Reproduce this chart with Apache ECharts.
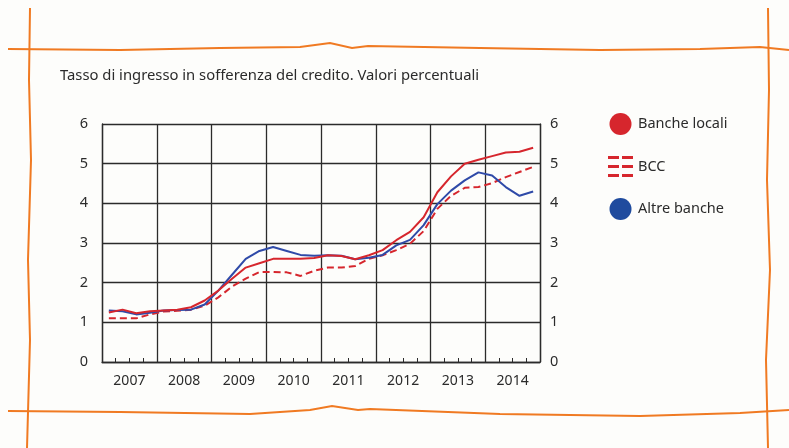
<!DOCTYPE html>
<html>
<head>
<meta charset="utf-8">
<script src="https://cdn.jsdelivr.net/npm/echarts@6/dist/echarts.min.js"></script>
<style>
  html, body { margin: 0; padding: 0; background: #fdfdfb; }
  #chart { width: 789px; height: 448px; }
</style>
</head>
<body>
<div id="chart"></div>
<script>
// years shown on the axis, quarterly data underneath
const years = ["2007", "2008", "2009", "2010", "2011", "2012", "2013", "2014"];
const quarters = years.flatMap(y => ["T1", "T2", "T3", "T4"].map(q => q + " " + y));
const yTicks = [0, 1, 2, 3, 4, 5, 6];

const bancheLocali = [
  1.25, 1.32, 1.23, 1.28, 1.30, 1.32, 1.38, 1.55,
  1.80, 2.10, 2.38, 2.49, 2.60, 2.60, 2.60, 2.62,
  2.69, 2.67, 2.59, 2.69, 2.82, 3.07, 3.28, 3.65,
  4.28, 4.68, 5.00, 5.10, 5.19, 5.28, 5.30, 5.40
];
const bcc = [
  1.10, 1.10, 1.10, 1.20, 1.27, 1.29, 1.32, 1.42,
  1.63, 1.90, 2.10, 2.27, 2.27, 2.26, 2.17, 2.30,
  2.38, 2.38, 2.42, 2.60, 2.69, 2.82, 2.98, 3.30,
  3.86, 4.19, 4.39, 4.41, 4.51, 4.66, 4.79, 4.92
];
const altreBanche = [
  1.30, 1.28, 1.20, 1.24, 1.30, 1.31, 1.32, 1.45,
  1.80, 2.20, 2.60, 2.80, 2.90, 2.80, 2.70, 2.68,
  2.69, 2.68, 2.59, 2.63, 2.70, 2.94, 3.08, 3.45,
  3.98, 4.32, 4.58, 4.78, 4.70, 4.41, 4.19, 4.30
];

const RED = "#d6262d";
const BLUE = "#2f4aa8";
const INK = "#2b2b2b";
const ORANGE = "#f07a22";
const FONT = "Noto Sans";

const chart = echarts.init(document.getElementById("chart"), null, { renderer: "canvas" });

// the hand-drawn looking orange frame around the figure
const frame = [
  [[8, 49], [120, 50], [220, 48], [300, 47], [330, 43], [352, 48], [368, 46], [480, 48], [600, 50], [700, 49], [760, 47], [789, 50]],
  [[8, 411], [120, 412], [250, 414], [310, 410], [332, 406], [358, 410], [370, 409], [500, 414], [640, 416], [740, 413], [789, 410]],
  [[30, 8], [29, 80], [31, 160], [28, 260], [30, 340], [27, 448]],
  [[768, 8], [769, 90], [767, 180], [770, 270], [766, 360], [768, 448]]
];

chart.setOption({
  backgroundColor: "#fdfdfb",
  animation: false,
  textStyle: { fontFamily: FONT, color: INK },
  title: {
    text: "Tasso di ingresso in sofferenza del credito. Valori percentuali",
    left: 55,
    top: 63,
    textStyle: { fontFamily: FONT, fontSize: 14.8, fontWeight: "normal", color: INK }
  },
  legend: {
    orient: "vertical",
    left: 603,
    top: 108,
    itemWidth: 25,
    itemHeight: 22,
    itemGap: 21,
    textStyle: { fontFamily: FONT, fontSize: 14.5, color: INK },
    data: [
      { name: "Banche locali", icon: "circle", itemStyle: { color: RED } },
      { name: "BCC", icon: "path://M0,0.5h11v3h-11z M14,0.5h11v3h-11z M0,9.5h11v3h-11z M14,9.5h11v3h-11z M0,18.5h11v3h-11z M14,18.5h11v3h-11z", itemStyle: { color: RED } },
      { name: "Altre banche", icon: "circle", itemStyle: { color: "#1f4b9e" } }
    ]
  },
  graphic: frame.map(points => ({
    type: "polyline",
    shape: { points },
    style: { stroke: ORANGE, lineWidth: 2, fill: null }
  })),
  grid: { left: 102, right: 249, top: 124, bottom: 86 },
  xAxis: [
    {
      type: "category",
      data: years,
      boundaryGap: true,
      axisLine: { show: true, lineStyle: { color: INK, width: 1.3 } },
      axisTick: { show: false },
      axisLabel: { fontSize: 14, color: INK, margin: 12 },
      splitLine: { show: true, interval: 0, lineStyle: { color: INK, width: 1.3 } }
    },
    {
      type: "category",
      data: quarters,
      boundaryGap: true,
      position: "bottom",
      axisLine: { show: false },
      axisLabel: { show: false },
      axisTick: { show: true, inside: true, interval: 0, length: 4, lineStyle: { color: INK, width: 1 } },
      splitLine: { show: false }
    }
  ],
  yAxis: [
    {
      type: "value",
      min: yTicks[0],
      max: yTicks[yTicks.length - 1],
      interval: 1,
      position: "left",
      axisLine: { show: true, lineStyle: { color: INK, width: 1.3 } },
      axisTick: { show: false },
      axisLabel: { fontSize: 14.5, color: INK, margin: 14 },
      splitLine: { show: true, lineStyle: { color: INK, width: 1.3 } }
    },
    {
      type: "value",
      min: yTicks[0],
      max: yTicks[yTicks.length - 1],
      interval: 1,
      position: "right",
      axisLine: { show: true, lineStyle: { color: INK, width: 1.3 } },
      axisTick: { show: false },
      axisLabel: { fontSize: 14.5, color: INK, margin: 10 },
      splitLine: { show: false }
    }
  ],
  series: [
    {
      name: "BCC",
      type: "line",
      xAxisIndex: 1,
      data: bcc,
      showSymbol: false,
      symbol: "none",
      itemStyle: { color: RED },
      lineStyle: { color: RED, width: 2, type: [7, 4] }
    },
    {
      name: "Altre banche",
      type: "line",
      xAxisIndex: 1,
      data: altreBanche,
      showSymbol: false,
      symbol: "none",
      itemStyle: { color: BLUE },
      lineStyle: { color: BLUE, width: 2 }
    },
    {
      name: "Banche locali",
      type: "line",
      xAxisIndex: 1,
      data: bancheLocali,
      showSymbol: false,
      symbol: "none",
      itemStyle: { color: RED },
      lineStyle: { color: RED, width: 2 }
    }
  ]
});
</script>
</body>
</html>
